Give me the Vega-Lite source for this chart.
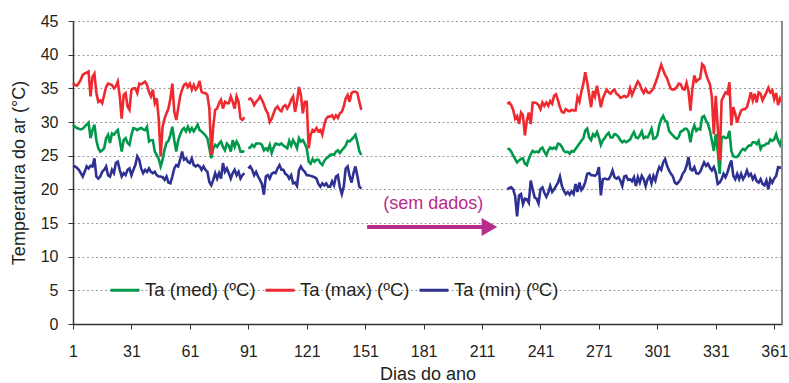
{
"$schema": "https://vega.github.io/schema/vega-lite/v6.json",
"width": 709, "height": 303,
"autosize": {"type": "none"},
"padding": {"left": 73, "top": 21, "right": 7, "bottom": 59},
"background": "white",
"config": {"view": {"stroke": null}, "font": "Liberation Sans"},
"datasets": {"temp": [
{"d":1,"med":29.6,"max":35.8,"min":23.5},{"d":2,"med":29.3,"max":35.5,"min":23.4},{"d":3,"med":29.1,"max":35.4,"min":23.2},{"d":4,"med":29.0,"max":35.8,"min":22.9},{"d":5,"med":28.9,"max":36.3,"min":22.4},
{"d":6,"med":29.0,"max":37.0,"min":21.9},{"d":7,"med":29.3,"max":37.2,"min":22.6},{"d":8,"med":29.6,"max":37.3,"min":23.4},{"d":9,"med":29.9,"max":37.5,"min":23.1},{"d":10,"med":27.6,"max":33.8,"min":23.5},
{"d":11,"med":28.8,"max":36.7,"min":23.4},{"d":12,"med":29.6,"max":37.2,"min":24.6},{"d":13,"med":27.3,"max":34.3,"min":21.9},{"d":14,"med":26.1,"max":33.0,"min":21.6},{"d":15,"med":25.6,"max":33.2,"min":21.9},
{"d":16,"med":25.8,"max":32.8,"min":22.6},{"d":17,"med":26.1,"max":34.0,"min":22.9},{"d":18,"med":27.6,"max":35.2,"min":23.4},{"d":19,"med":28.1,"max":35.7,"min":22.1},{"d":20,"med":26.9,"max":35.6,"min":21.9},
{"d":21,"med":28.3,"max":35.5,"min":22.9},{"d":22,"med":28.1,"max":35.0,"min":22.4},{"d":23,"med":28.5,"max":35.3,"min":23.9},{"d":24,"med":28.8,"max":36.0,"min":24.1},{"d":25,"med":27.3,"max":33.8,"min":22.9},
{"d":26,"med":25.6,"max":30.5,"min":21.9},{"d":27,"med":27.3,"max":34.0,"min":22.4},{"d":28,"med":27.6,"max":34.3,"min":22.1},{"d":29,"med":26.9,"max":32.3,"min":22.9},{"d":30,"med":26.6,"max":31.8,"min":23.1},
{"d":31,"med":28.1,"max":34.8,"min":22.1},{"d":32,"med":29.1,"max":35.0,"min":22.9},{"d":33,"med":29.0,"max":35.0,"min":23.6},{"d":34,"med":28.8,"max":34.3,"min":24.9},{"d":35,"med":29.0,"max":35.7,"min":24.4},
{"d":36,"med":29.1,"max":35.6,"min":23.1},{"d":37,"med":28.9,"max":35.8,"min":22.4},{"d":38,"med":28.8,"max":36.0,"min":22.9},{"d":39,"med":29.3,"max":35.5,"min":22.6},{"d":40,"med":27.1,"max":34.5,"min":23.1},
{"d":41,"med":27.3,"max":33.8,"min":22.6},{"d":42,"med":27.3,"max":34.8,"min":22.4},{"d":43,"med":25.6,"max":32.8,"min":22.6},{"d":44,"med":25.1,"max":33.5,"min":22.1},{"d":45,"med":24.5,"max":30.5,"min":21.9},
{"d":46,"med":23.4,"max":24.9,"min":21.9},{"d":47,"med":24.4,"max":29.3,"min":21.8},{"d":48,"med":25.9,"max":30.5,"min":21.4},{"d":49,"med":26.9,"max":31.3,"min":21.9},{"d":50,"med":27.2,"max":32.0,"min":21.0},
{"d":51,"med":28.1,"max":33.5,"min":20.9},{"d":52,"med":29.3,"max":35.7,"min":21.9},{"d":53,"med":27.3,"max":31.5,"min":23.1},{"d":54,"med":25.6,"max":30.3,"min":23.6},{"d":55,"med":27.3,"max":32.0,"min":23.4},
{"d":56,"med":28.1,"max":33.8,"min":24.4},{"d":57,"med":28.8,"max":34.8,"min":25.6},{"d":58,"med":29.1,"max":35.5,"min":24.4},{"d":59,"med":28.6,"max":35.7,"min":24.6},{"d":60,"med":29.3,"max":35.2,"min":24.1},
{"d":61,"med":28.6,"max":35.7,"min":23.9},{"d":62,"med":29.1,"max":34.8,"min":24.6},{"d":63,"med":28.6,"max":35.5,"min":23.6},{"d":64,"med":29.1,"max":34.8,"min":23.4},{"d":65,"med":29.6,"max":35.2,"min":23.6},
{"d":66,"med":28.8,"max":36.1,"min":23.4},{"d":67,"med":28.6,"max":34.5,"min":22.9},{"d":68,"med":28.3,"max":34.3,"min":23.4},{"d":69,"med":28.0,"max":34.3,"min":22.9},{"d":70,"med":27.6,"max":34.0,"min":22.6},
{"d":71,"med":26.1,"max":32.0,"min":21.1},{"d":72,"med":24.6,"max":25.1,"min":20.6},{"d":73,"med":26.1,"max":29.3,"min":21.4},{"d":74,"med":26.6,"max":31.8,"min":22.4},{"d":75,"med":26.3,"max":32.0,"min":21.6},
{"d":76,"med":26.8,"max":32.8,"min":22.4},{"d":77,"med":27.1,"max":33.3,"min":21.6},{"d":78,"med":26.3,"max":32.0,"min":23.9},{"d":79,"med":25.8,"max":33.0,"min":22.6},{"d":80,"med":26.8,"max":32.8,"min":23.1},
{"d":81,"med":26.5,"max":32.8,"min":22.4},{"d":82,"med":25.6,"max":33.8,"min":21.6},{"d":83,"med":27.3,"max":33.0,"min":22.4},{"d":84,"med":26.3,"max":32.0,"min":22.9},{"d":85,"med":27.1,"max":33.8,"min":22.1},
{"d":86,"med":26.6,"max":33.0,"min":22.6},{"d":87,"med":25.6,"max":30.5,"min":21.6},{"d":88,"med":25.6,"max":30.3,"min":22.1},{"d":89,"med":25.7,"max":30.7,"min":22.4},{"d":90,"med":null,"max":null,"min":null},
{"d":91,"med":26.1,"max":33.3,"min":23.1},{"d":92,"med":26.2,"max":33.5,"min":23.4},{"d":93,"med":26.6,"max":33.2,"min":22.9},{"d":94,"med":26.3,"max":32.5,"min":22.1},{"d":95,"med":26.8,"max":33.0,"min":22.6},
{"d":96,"med":26.8,"max":33.3,"min":21.9},{"d":97,"med":26.8,"max":33.8,"min":21.4},{"d":98,"med":26.6,"max":33.3,"min":20.8},{"d":99,"med":25.8,"max":32.6,"min":19.2},{"d":100,"med":26.1,"max":31.8,"min":21.9},
{"d":101,"med":25.8,"max":31.3,"min":22.1},{"d":102,"med":26.6,"max":30.0,"min":21.6},{"d":103,"med":25.4,"max":30.5,"min":22.3},{"d":104,"med":26.2,"max":31.3,"min":22.5},{"d":105,"med":26.8,"max":32.0,"min":22.4},
{"d":106,"med":26.7,"max":32.3,"min":23.1},{"d":107,"med":26.6,"max":31.8,"min":23.6},{"d":108,"med":26.8,"max":31.6,"min":22.9},{"d":109,"med":26.5,"max":32.3,"min":22.9},{"d":110,"med":26.3,"max":32.5,"min":22.3},
{"d":111,"med":26.1,"max":32.0,"min":22.1},{"d":112,"med":27.2,"max":32.5,"min":21.6},{"d":113,"med":26.5,"max":33.3,"min":22.1},{"d":114,"med":27.3,"max":33.8,"min":20.9},{"d":115,"med":26.8,"max":31.5,"min":21.0},
{"d":116,"med":26.1,"max":33.0,"min":20.5},{"d":117,"med":27.6,"max":35.2,"min":22.8},{"d":118,"med":27.1,"max":34.0,"min":23.4},{"d":119,"med":27.3,"max":31.3,"min":22.9},{"d":120,"med":26.8,"max":33.0,"min":22.6},
{"d":121,"med":26.1,"max":33.0,"min":22.1},{"d":122,"med":24.1,"max":26.1,"min":22.1},{"d":123,"med":23.8,"max":28.1,"min":22.0},{"d":124,"med":24.5,"max":28.8,"min":21.9},{"d":125,"med":24.1,"max":28.6,"min":21.8},
{"d":126,"med":24.4,"max":29.1,"min":21.6},{"d":127,"med":24.4,"max":28.6,"min":20.8},{"d":128,"med":23.9,"max":28.8,"min":20.4},{"d":129,"med":23.6,"max":28.1,"min":20.9},{"d":130,"med":24.2,"max":29.6,"min":20.6},
{"d":131,"med":24.6,"max":30.5,"min":20.9},{"d":132,"med":24.8,"max":30.8,"min":20.4},{"d":133,"med":25.1,"max":30.8,"min":20.4},{"d":134,"med":25.2,"max":31.0,"min":21.2},{"d":135,"med":25.1,"max":30.5,"min":20.6},
{"d":136,"med":25.6,"max":31.0,"min":21.9},{"d":137,"med":25.8,"max":30.6,"min":22.1},{"d":138,"med":25.4,"max":31.3,"min":20.3},{"d":139,"med":25.8,"max":31.5,"min":19.3},{"d":140,"med":26.1,"max":32.3,"min":20.4},
{"d":141,"med":26.5,"max":33.5,"min":23.1},{"d":142,"med":27.2,"max":34.0,"min":23.4},{"d":143,"med":27.1,"max":33.0,"min":22.0},{"d":144,"med":27.4,"max":34.3,"min":21.0},{"d":145,"med":27.7,"max":34.5,"min":22.4},
{"d":146,"med":28.1,"max":34.5,"min":23.4},{"d":147,"med":27.0,"max":34.3,"min":22.0},{"d":148,"med":25.7,"max":33.0,"min":20.4},{"d":149,"med":25.1,"max":31.8,"min":20.1},{"d":150,"med":null,"max":null,"min":null},
{"d":224,"med":26.0,"max":32.7,"min":20.0},{"d":225,"med":26.0,"max":32.9,"min":20.2},{"d":226,"med":25.6,"max":32.5,"min":20.3},{"d":227,"med":25.0,"max":31.8,"min":20.0},{"d":228,"med":24.5,"max":30.5,"min":19.0},
{"d":229,"med":24.0,"max":30.9,"min":16.0},{"d":230,"med":24.3,"max":29.7,"min":19.1},{"d":231,"med":24.5,"max":31.4,"min":19.3},{"d":232,"med":24.6,"max":31.0,"min":17.8},{"d":233,"med":23.8,"max":28.0,"min":18.6},
{"d":234,"med":23.6,"max":30.2,"min":18.5},{"d":235,"med":24.5,"max":31.4,"min":18.0},{"d":236,"med":25.2,"max":29.7,"min":21.3},{"d":237,"med":25.7,"max":32.9,"min":20.0},{"d":238,"med":25.5,"max":32.9,"min":18.8},
{"d":239,"med":25.6,"max":32.8,"min":18.6},{"d":240,"med":25.5,"max":32.5,"min":17.9},{"d":241,"med":26.0,"max":31.9,"min":20.0},{"d":242,"med":26.2,"max":32.9,"min":20.3},{"d":243,"med":25.6,"max":32.4,"min":19.5},
{"d":244,"med":25.1,"max":32.9,"min":18.9},{"d":245,"med":25.8,"max":32.4,"min":19.5},{"d":246,"med":26.2,"max":33.1,"min":20.5},{"d":247,"med":26.0,"max":32.7,"min":19.6},{"d":248,"med":26.2,"max":33.9,"min":20.0},
{"d":249,"med":26.0,"max":34.1,"min":20.5},{"d":250,"med":26.8,"max":33.2,"min":21.0},{"d":251,"med":26.7,"max":32.2,"min":21.9},{"d":252,"med":26.3,"max":31.5,"min":20.5},{"d":253,"med":25.7,"max":31.4,"min":19.8},
{"d":254,"med":25.5,"max":31.9,"min":19.3},{"d":255,"med":25.6,"max":31.7,"min":19.6},{"d":256,"med":25.3,"max":31.6,"min":19.2},{"d":257,"med":25.7,"max":31.8,"min":19.7},{"d":258,"med":25.6,"max":31.7,"min":19.3},
{"d":259,"med":26.0,"max":31.7,"min":20.8},{"d":260,"med":26.4,"max":33.7,"min":19.6},{"d":261,"med":26.8,"max":33.0,"min":21.0},{"d":262,"med":27.2,"max":34.5,"min":19.9},{"d":263,"med":27.6,"max":35.7,"min":20.3},
{"d":264,"med":28.7,"max":37.4,"min":21.1},{"d":265,"med":29.0,"max":35.9,"min":22.3},{"d":266,"med":27.7,"max":34.0,"min":22.4},{"d":267,"med":27.3,"max":32.2,"min":22.1},{"d":268,"med":28.2,"max":34.6,"min":22.1},
{"d":269,"med":27.9,"max":33.8,"min":22.0},{"d":270,"med":28.5,"max":35.4,"min":22.3},{"d":271,"med":27.7,"max":33.9,"min":23.3},{"d":272,"med":26.6,"max":32.2,"min":19.1},{"d":273,"med":27.3,"max":33.5,"min":21.5},
{"d":274,"med":27.6,"max":34.2,"min":21.6},{"d":275,"med":28.1,"max":34.8,"min":21.5},{"d":276,"med":28.4,"max":34.4,"min":21.5},{"d":277,"med":27.7,"max":34.2,"min":22.0},{"d":278,"med":27.7,"max":34.6,"min":22.8},
{"d":279,"med":28.2,"max":34.8,"min":21.8},{"d":280,"med":28.1,"max":34.2,"min":21.6},{"d":281,"med":27.8,"max":34.0,"min":21.8},{"d":282,"med":27.3,"max":33.6,"min":21.3},{"d":283,"med":27.0,"max":33.7,"min":20.5},
{"d":284,"med":27.2,"max":33.9,"min":21.9},{"d":285,"med":27.0,"max":33.7,"min":22.0},{"d":286,"med":27.2,"max":33.9,"min":21.4},{"d":287,"med":27.4,"max":35.0,"min":21.5},{"d":288,"med":28.0,"max":34.0,"min":21.2},
{"d":289,"med":28.5,"max":34.7,"min":21.8},{"d":290,"med":27.7,"max":35.4,"min":20.5},{"d":291,"med":27.6,"max":36.0,"min":21.8},{"d":292,"med":28.0,"max":35.6,"min":21.0},{"d":293,"med":28.6,"max":34.8,"min":22.0},
{"d":294,"med":27.6,"max":34.3,"min":21.5},{"d":295,"med":27.8,"max":34.9,"min":20.5},{"d":296,"med":27.7,"max":34.4,"min":21.5},{"d":297,"med":28.3,"max":34.3,"min":22.0},{"d":298,"med":29.0,"max":34.6,"min":20.9},
{"d":299,"med":27.5,"max":35.0,"min":22.0},{"d":300,"med":27.6,"max":35.8,"min":21.3},{"d":301,"med":28.0,"max":36.6,"min":22.5},{"d":302,"med":29.5,"max":37.6,"min":23.3},{"d":303,"med":30.4,"max":38.5,"min":22.9},
{"d":304,"med":30.9,"max":37.7,"min":24.0},{"d":305,"med":30.2,"max":37.0,"min":24.5},{"d":306,"med":30.0,"max":36.5,"min":23.5},{"d":307,"med":28.7,"max":35.6,"min":22.8},{"d":308,"med":28.3,"max":34.9,"min":22.3},
{"d":309,"med":28.0,"max":34.8,"min":21.9},{"d":310,"med":27.7,"max":34.9,"min":21.0},{"d":311,"med":27.5,"max":35.2,"min":20.8},{"d":312,"med":27.8,"max":35.7,"min":21.1},{"d":313,"med":28.6,"max":35.6,"min":21.5},
{"d":314,"med":28.7,"max":34.9,"min":22.3},{"d":315,"med":29.0,"max":34.8,"min":22.7},{"d":316,"med":29.0,"max":35.8,"min":23.5},{"d":317,"med":28.6,"max":34.6,"min":24.8},{"d":318,"med":27.0,"max":31.7,"min":23.0},
{"d":319,"med":28.7,"max":34.9,"min":22.8},{"d":320,"med":29.5,"max":36.9,"min":23.3},{"d":321,"med":28.7,"max":36.0,"min":22.4},{"d":322,"med":29.0,"max":36.3,"min":22.3},{"d":323,"med":28.9,"max":36.5,"min":22.6},
{"d":324,"med":30.7,"max":38.6,"min":23.3},{"d":325,"med":30.9,"max":38.3,"min":24.0},{"d":326,"med":30.2,"max":37.1,"min":23.5},{"d":327,"med":29.7,"max":36.3,"min":23.8},{"d":328,"med":28.7,"max":35.6,"min":23.2},
{"d":329,"med":27.2,"max":33.7,"min":22.8},{"d":330,"med":25.7,"max":28.2,"min":23.3},{"d":331,"med":28.2,"max":33.9,"min":22.5},{"d":332,"med":25.7,"max":29.2,"min":20.8},{"d":333,"med":22.3,"max":24.3,"min":21.0},
{"d":334,"med":27.7,"max":33.2,"min":21.5},{"d":335,"med":27.8,"max":33.8,"min":22.3},{"d":336,"med":27.6,"max":34.4,"min":21.8},{"d":337,"med":27.7,"max":34.2,"min":22.5},{"d":338,"med":28.7,"max":35.9,"min":23.5},
{"d":339,"med":25.7,"max":29.5,"min":24.3},{"d":340,"med":24.9,"max":32.2,"min":22.0},{"d":341,"med":24.8,"max":31.2,"min":21.5},{"d":342,"med":24.8,"max":29.9,"min":22.3},{"d":343,"med":25.2,"max":30.9,"min":21.5},
{"d":344,"med":25.7,"max":31.7,"min":22.3},{"d":345,"med":26.0,"max":31.9,"min":21.5},{"d":346,"med":25.8,"max":31.9,"min":22.0},{"d":347,"med":26.2,"max":32.2,"min":22.8},{"d":348,"med":26.5,"max":33.2,"min":22.0},
{"d":349,"med":26.5,"max":34.4,"min":22.3},{"d":350,"med":27.0,"max":33.2,"min":21.5},{"d":351,"med":27.0,"max":34.2,"min":22.0},{"d":352,"med":26.7,"max":32.9,"min":21.2},{"d":353,"med":27.2,"max":34.4,"min":21.0},
{"d":354,"med":26.0,"max":34.2,"min":21.5},{"d":355,"med":26.5,"max":33.2,"min":20.8},{"d":356,"med":26.5,"max":33.8,"min":20.6},{"d":357,"med":26.8,"max":34.4,"min":21.3},{"d":358,"med":26.8,"max":35.1,"min":20.0},
{"d":359,"med":27.4,"max":34.4,"min":21.5},{"d":360,"med":27.2,"max":34.7,"min":21.0},{"d":361,"med":27.4,"max":33.4,"min":21.6},{"d":362,"med":28.2,"max":34.3,"min":22.0},{"d":363,"med":27.2,"max":32.5,"min":23.3},
{"d":364,"med":26.6,"max":33.5,"min":23.2},{"d":365,"med":27.6,"max":32.9,"min":23.3}
]},
"layer": [
{
"data": {"name": "temp"},
"transform": [{"fold": ["med", "max", "min"], "as": ["serie", "valor"]}],
"mark": {"type": "line", "strokeWidth": 2.6, "invalid": "break-paths-show-domains"},
"encoding": {
"x": {"field": "d", "type": "quantitative",
"scale": {"domain": [1, 365], "nice": false, "zero": false},
"axis": {"values": [1,31,61,91,121,151,181,211,241,271,301,331,361], "title": "Dias do ano", "titleFontSize": 18, "titleFontWeight": "normal", "titleColor": "#231f20", "titlePadding": 6, "labelFontSize": 16, "labelColor": "#231f20", "labelPadding": 14, "domainColor": "#333333", "domainWidth": 1.5, "tickColor": "#333333", "tickSize": 5, "grid": false, "labelFlush": false}},
"y": {"field": "valor", "type": "quantitative",
"scale": {"domain": [0, 45], "nice": false},
"axis": {"values": [0,5,10,15,20,25,30,35,40,45], "tickCount": 10, "labelOverlap": false, "title": "Temperatura do ar (°C)", "titleFontSize": 18, "titleFontWeight": "normal", "titleColor": "#231f20", "titlePadding": 12, "labelFontSize": 16, "labelColor": "#231f20", "labelPadding": 10, "domainColor": "#333333", "domainWidth": 1.5, "tickColor": "#333333", "tickSize": 5, "grid": true, "gridColor": "#9a9a9a", "gridDash": [2, 2.5], "gridWidth": 1}},
"color": {"field": "serie", "type": "nominal",
"scale": {"domain": ["med", "max", "min"], "range": ["#00984a", "#ee2a30", "#2e3192"]},
"legend": {"orient": "none", "legendX": 36, "legendY": 253, "direction": "horizontal", "title": null, "symbolType": "stroke", "symbolSize": 841, "symbolStrokeWidth": 3, "labelFontSize": 18.5, "labelColor": "#231f20", "labelOffset": 4, "columnPadding": 3, "labelLimit": 300,
"labelExpr": "datum.label == 'med' ? 'Ta (med) (ºC)' : datum.label == 'max' ? 'Ta (max) (ºC)' : 'Ta (min) (ºC)'"}}
}
},
{
"data": {"values": [{}]},
"mark": {"type": "rule", "color": "#8a8a8a", "strokeWidth": 2},
"encoding": {"x": {"datum": 365}}
},
{
"data": {"values": [{}]},
"mark": {"type": "rule", "color": "#b82c8c", "strokeWidth": 4},
"encoding": {"x": {"datum": 152}, "x2": {"datum": 213}, "y": {"datum": 14.4, "axis": {"values": [0,5,10,15,20,25,30,35,40,45], "tickCount": 10, "labelOverlap": false}}}
},
{
"data": {"values": [{}]},
"mark": {"type": "point", "shape": "triangle-right", "filled": true, "color": "#b82c8c", "size": 324, "opacity": 1},
"encoding": {"x": {"datum": 214.8}, "y": {"datum": 14.4, "axis": {"values": [0,5,10,15,20,25,30,35,40,45], "tickCount": 10, "labelOverlap": false}}}
},
{
"data": {"values": [{}]},
"mark": {"type": "text", "text": "(sem dados)", "fontSize": 18, "color": "#b82c8c", "baseline": "middle", "align": "center"},
"encoding": {"x": {"datum": 186}, "y": {"datum": 17.8, "axis": {"values": [0,5,10,15,20,25,30,35,40,45], "tickCount": 10, "labelOverlap": false}}}
}
]
}
